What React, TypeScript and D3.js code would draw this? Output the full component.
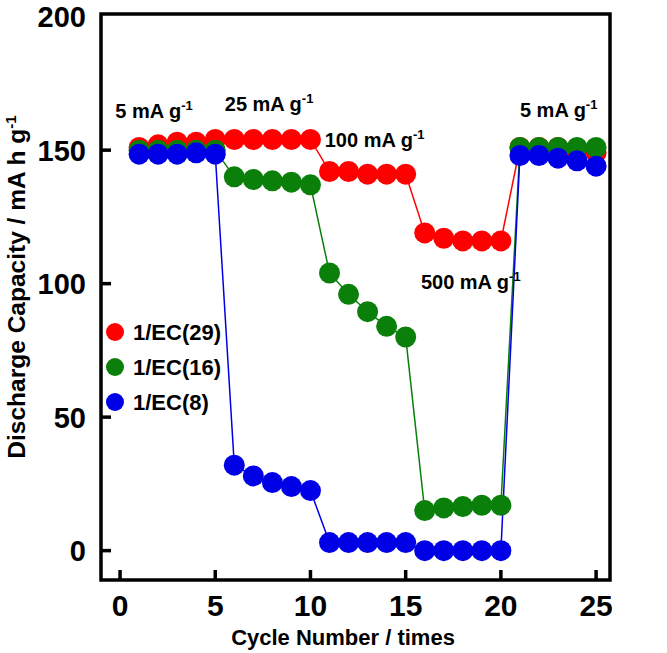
import React from "react";
import * as d3 from "d3";

const cycles = [1,2,3,4,5,6,7,8,9,10,11,12,13,14,15,16,17,18,19,20,21,22,23,24,25];
const ec29 = [151,152,153,153,154, 154,154,154,154,154, 142,142,141,141,141, 119,117,116,116,116, 151,151,151,150,149];
const ec16 = [150,150,150,150,150, 140,139,138.5,138,137, 104,96,89.5,84,80, 15,16,16.5,17,17, 151,151,151,151,151];
const ec8 = [148.5,148.5,148.5,149,148.5, 32,28,25.5,24,22.5, 3,3,3,3,3, 0,0,0,0,0, 148,148,147,146,144];

const seriesNames = ["1/EC(29)", "1/EC(16)", "1/EC(8)"];
const seriesColors = ["#ff0000", "#0a7f0a", "#0000e6"];
const seriesData = [ec29, ec16, ec8];

const xTicks = [0, 5, 10, 15, 20, 25];
const yTicks = [0, 50, 100, 150, 200];

const annotations = [
  { text: "5 mA g", x: -0.25, y: 162 },
  { text: "25 mA g", x: 5.5, y: 164.5 },
  { text: "100 mA g", x: 10.75, y: 151 },
  { text: "500 mA g", x: 15.8, y: 98 },
  { text: "5 mA g", x: 21.0, y: 162.5 },
];

const W = 667, H = 653;
const left = 101, right = 610, top = 14, bottom = 580;
const FONT = "'Liberation Sans', Arial, sans-serif";

export default function App() {
  const x = d3.scaleLinear().domain([-1, 25.73]).range([left, right]);
  const y = d3.scaleLinear().domain([-11, 201]).range([bottom, top]);
  const line = d3.line<number>().x((_, i) => x(cycles[i])).y((d) => y(d));

  return (
    <svg width={W} height={H} style={{ position: "absolute", left: 0, top: 0 }} fontFamily={FONT}>
      <rect x={0} y={0} width={W} height={H} fill="#fff" />
      {seriesData.map((s, k) => (
        <path key={"l" + k} d={line(s) || ""} fill="none" stroke={seriesColors[k]} strokeWidth={1.5} />
      ))}
      {seriesData.map((s, k) => (
        <g key={"m" + k} fill={seriesColors[k]}>
          {s.map((v, i) => (
            <circle key={i} cx={x(cycles[i])} cy={y(v)} r={10.5} />
          ))}
        </g>
      ))}
      <rect x={left} y={top} width={right - left} height={bottom - top} fill="none" stroke="#000" strokeWidth={3.5} />
      {yTicks.map((t) => (
        <g key={"y" + t}>
          {t < 200 && <line x1={left} x2={left + 10} y1={y(t)} y2={y(t)} stroke="#000" strokeWidth={3.5} />}
          <text x={86} y={y(t)} dy="0.36em" textAnchor="end" fontWeight="bold" fontSize={29}>{t}</text>
        </g>
      ))}
      {xTicks.map((t) => (
        <g key={"x" + t}>
          <line x1={x(t)} x2={x(t)} y1={bottom} y2={bottom - 10} stroke="#000" strokeWidth={3.5} />
          <text x={x(t)} y={616} textAnchor="middle" fontWeight="bold" fontSize={30}>{t}</text>
        </g>
      ))}
      <text x={343} y={645} textAnchor="middle" fontWeight="bold" fontSize={22}>Cycle Number / times</text>
      <text transform={`translate(25,287) rotate(-90)`} textAnchor="middle" fontWeight="bold" fontSize={24.5}>
        Discharge Capacity / mA h g<tspan fontSize={15} dy={-9}>-1</tspan>
      </text>
      {annotations.map((a, i) => (
        <text key={"a" + i} x={x(a.x)} y={y(a.y)} fontWeight="bold" fontSize={20}>
          {a.text}<tspan fontSize={13} dy={-8}>-1</tspan>
        </text>
      ))}
      {seriesNames.map((n, k) => (
        <g key={"lg" + k}>
          <circle cx={115} cy={332 + k * 35} r={9} fill={seriesColors[k]} />
          <text x={133} y={332 + k * 35} dy="0.36em" fontWeight="bold" fontSize={22}>{n}</text>
        </g>
      ))}
    </svg>
  );
}
